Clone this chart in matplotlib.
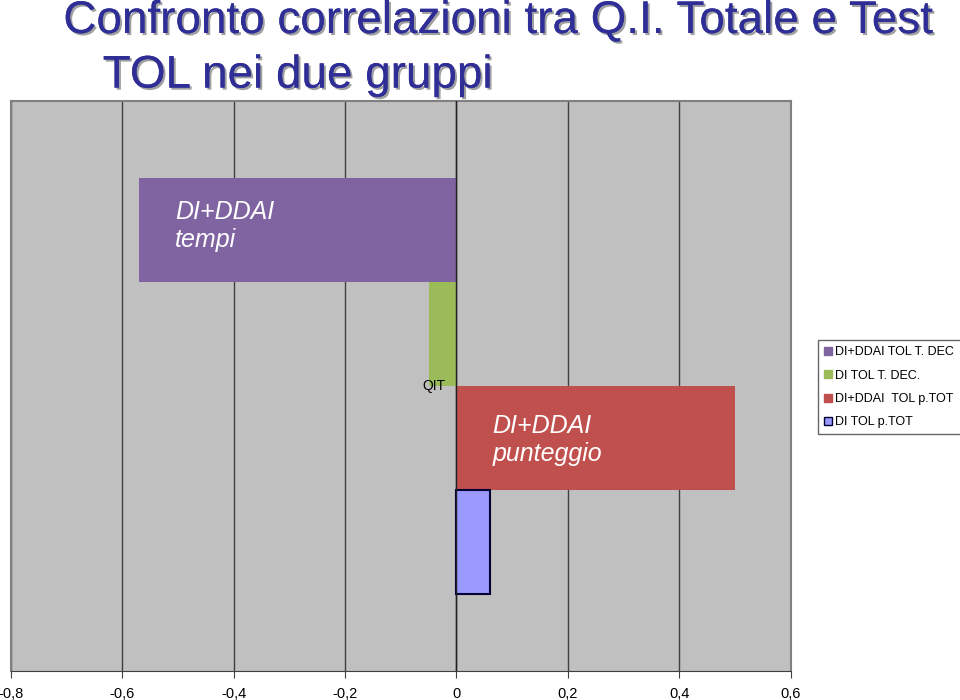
import matplotlib
matplotlib.use("Agg")
import matplotlib.pyplot as plt
import matplotlib.patheffects as pe
from matplotlib.patches import Patch

plt.rcParams["font.family"] = ["Liberation Sans Narrow", "Liberation Sans", "DejaVu Sans"]

# one category, four series (top to bottom as drawn)
category = "QIT"
series_names = ["DI+DDAI TOL T. DEC", "DI TOL T. DEC.", "DI+DDAI  TOL p.TOT", "DI TOL p.TOT"]
values = [-0.57, -0.05, 0.50, 0.06]
colors = ["#8064a2", "#9bbb59", "#c0504d", "#9999ff"]
edges = ["none", "none", "none", "#000033"]
ticks = [-0.8, -0.6, -0.4, -0.2, 0, 0.2, 0.4, 0.6]

fig = plt.figure(figsize=(9.6, 7), dpi=100)
ax = fig.add_axes([0.0115, 0.041, 0.812, 0.815])
ax.set_facecolor("#c0c0c0")

h = 0.365
offsets = [1.5 * h, 0.5 * h, -0.5 * h, -1.5 * h]
for v, c, e, off in zip(values, colors, edges, offsets):
    ax.barh(off, v, height=h, color=c, edgecolor=e, linewidth=1.5 if e != "none" else 0, zorder=3)

ax.set_xlim(-0.8, 0.6)
ax.set_ylim(-1, 1)
ax.set_xticks(ticks)
ax.set_xticklabels([f"{t:g}".replace(".", ",") for t in ticks], fontsize=10.5)
ax.set_yticks([])
ax.grid(axis="x", color="#404040", linewidth=1, zorder=1)
ax.axvline(0, color="#202020", linewidth=1, zorder=4)
for s in ["left", "top", "right"]:
    ax.spines[s].set_color("#808080")
    ax.spines[s].set_linewidth(1.5)
ax.spines["bottom"].set_color("#404040")
ax.tick_params(axis="x", length=5, color="#404040", pad=6)

ax.text(-0.02, 0, category, ha="right", va="center", fontsize=10, zorder=5)
ax.text(-0.505, 0.56, "DI+DDAI\ntempi", color="white", fontsize=18, style="italic",
        ha="left", va="center", linespacing=1.2, zorder=5)
ax.text(0.065, -0.19, "DI+DDAI\npunteggio", color="white", fontsize=18, style="italic",
        ha="left", va="center", linespacing=1.2, zorder=5)

handles = [Patch(facecolor=c, edgecolor=(e if e != "none" else c)) for c, e in zip(colors, edges)]
leg = fig.legend(handles, series_names, loc="upper left", bbox_to_anchor=(0.852, 0.514),
                 fontsize=9, frameon=True, fancybox=False, handlelength=0.6, handleheight=0.6,
                 handletextpad=0.3, labelspacing=0.9, borderpad=0.5, borderaxespad=0)
leg.get_frame().set_edgecolor("#404040")

shadow = [pe.withSimplePatchShadow(offset=(1.5, -1.5), shadow_rgbFace="#a0a0a0", alpha=1), pe.Normal()]
fig.text(0.066, 0.97, "Confronto correlazioni tra Q.I. Totale e Test", color="#2e2e96",
         fontsize=33, ha="left", va="center", path_effects=shadow)
fig.text(0.107, 0.892, "TOL nei due gruppi", color="#2e2e96",
         fontsize=33, ha="left", va="center", path_effects=shadow)

fig.savefig("out.png", dpi=100)
